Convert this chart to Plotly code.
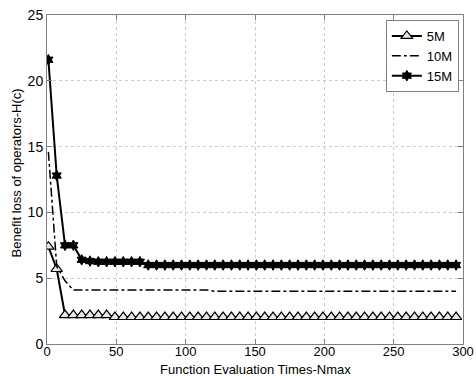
import plotly.graph_objects as go

x = [1 + 6 * k for k in range(50)]

m5 = [7.4, 5.7] + [2.2] * 6 + [2.05] * 42
m10 = [14.6, 5.9, 4.8] + [4.1] * 17 + [4.0] * 30
m15 = [21.6, 12.8, 7.5, 7.5, 6.4, 6.3, 6.25, 6.25, 6.25, 6.25, 6.25, 6.25] + [6.0] * 38

x_title = "Function Evaluation Times-Nmax"
y_title = "Benefit loss of operators-H(c)"

fig = go.Figure()
fig.add_trace(go.Scatter(x=x, y=m5, name="5M", mode="lines+markers",
                         line=dict(color="black", width=2),
                         marker=dict(symbol="triangle-up", size=10, color="#e8e8e8",
                                     line=dict(color="black", width=1.2))))
fig.add_trace(go.Scatter(x=x, y=m10, name="10M", mode="lines",
                         line=dict(color="black", width=1.5, dash="dashdot")))
fig.add_trace(go.Scatter(x=x, y=m15, name="15M", mode="lines+markers",
                         line=dict(color="black", width=2),
                         marker=dict(symbol="hexagram", size=8, color="black",
                                     line=dict(color="black", width=1))))

axis_common = dict(showline=True, linecolor="#808080", linewidth=1, mirror="ticks",
                   ticks="inside", ticklen=5, tickcolor="#808080", automargin=False,
                   showgrid=True, gridcolor="#cccccc", griddash="dot", gridwidth=1,
                   zeroline=False, tickfont=dict(size=14, color="black"))

fig.update_layout(
    width=476, height=376,
    margin=dict(l=47, r=13, t=15, b=32),
    paper_bgcolor="white", plot_bgcolor="white",
    font=dict(family="Liberation Sans, Arial, sans-serif", size=14, color="black"),
    showlegend=True,
    legend=dict(x=0.99, y=0.985, xanchor="right", yanchor="top",
                bgcolor="white", bordercolor="#808080", borderwidth=1,
                font=dict(size=13), tracegroupgap=0, itemwidth=30),
    xaxis=dict(range=[0, 300], tickvals=[0, 50, 100, 150, 200, 250, 300],
               ticklabelstandoff=-5, **{**axis_common, "tickfont": dict(size=13, color="black")}),
    yaxis=dict(range=[0, 25], tickvals=[0, 5, 10, 15, 20, 25], **axis_common),
    annotations=[
        dict(text=x_title, xref="paper", yref="paper", x=0.5, y=0, yshift=-34,
             xanchor="center", yanchor="bottom", showarrow=False, borderpad=0,
             font=dict(size=13)),
        dict(text=y_title, xref="paper", yref="paper", x=0, xshift=-40, y=0.52,
             xanchor="left", yanchor="middle", textangle=-90, showarrow=False,
             font=dict(size=13)),
    ],
)

fig.write_html("out.html")
